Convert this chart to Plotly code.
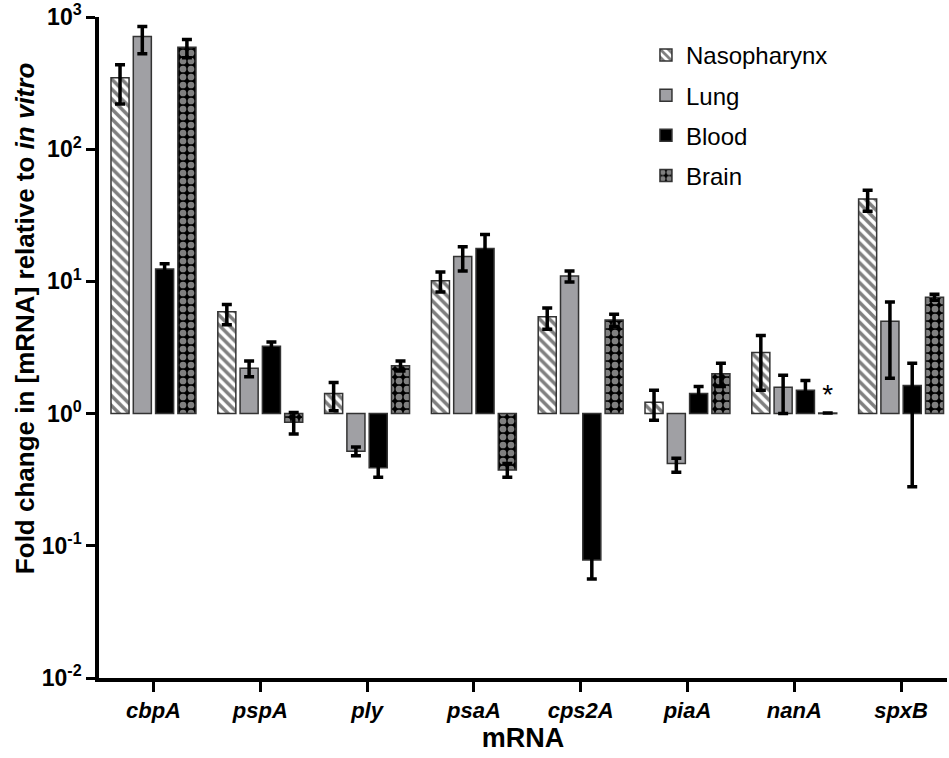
import plotly.graph_objects as go

genes = ["cbpA", "pspA", "ply", "psaA", "cps2A", "piaA", "nanA", "spxB"]

naso = [347, 5.9, 1.42, 10.1, 5.4, 1.22, 2.9, 42]
naso_up = [88, 0.8, 0.3, 1.7, 0.9, 0.28, 1.0, 7]
naso_dn = [127, 1.2, 0.37, 1.8, 1.05, 0.33, 1.4, 8]

lung = [711, 2.2, 0.52, 15.4, 11.0, 0.42, 1.58, 5.0]
lung_up = [136, 0.3, 0.04, 2.9, 1.0, 0.04, 0.37, 2.0]
lung_dn = [183, 0.3, 0.04, 3.4, 1.1, 0.06, 0.58, 3.15]

blood = [12.4, 3.23, 0.39, 17.7, 0.078, 1.42, 1.5, 1.63]
blood_up = [1.2, 0.25, 0.06, 4.9, 0.022, 0.18, 0.28, 0.77]
blood_dn = [1.2, 0.25, 0.06, 4.9, 0.022, 0.18, 0.28, 1.35]

brain = [590, 0.86, 2.3, 0.375, 5.1, 2.0, 1.01, 7.6]
brain_up = [85, 0.16, 0.2, 0.045, 0.55, 0.4, 0, 0.4]
brain_dn = [98, 0.16, 0.2, 0.045, 0.55, 0.4, 0, 0.4]
brain_flags = ["", "", "", "", "", "", "*", ""]

ytick_vals = [0.01, 0.1, 1, 10, 100, 1000]
ytick_text = ["10<sup>-2</sup>", "10<sup>-1</sup>", "10<sup>0</sup>",
              "10<sup>1</sup>", "10<sup>2</sup>", "10<sup>3</sup>"]

y_title = "<b>Fold change in [mRNA] relative to <i>in vitro</i></b>"
x_title = "<b>mRNA</b>"

BASE = 1.0
FONT = "Liberation Sans"

series = [
    ("Nasopharynx", naso, naso_up, naso_dn,
     dict(color="white", pattern=dict(shape="\\", fgcolor="black", bgcolor="white", size=7, solidity=0.5))),
    ("Lung", lung, lung_up, lung_dn, dict(color="#a0a0a4")),
    ("Blood", blood, blood_up, blood_dn, dict(color="black")),
    ("Brain", brain, brain_up, brain_dn,
     dict(color="white", pattern=dict(shape=".", fgcolor="white", bgcolor="black", size=8, solidity=0.55))),
]

fig = go.Figure()
for name, vals, up, dn, mk in series:
    mk = dict(mk)
    mk["line"] = dict(color="#333333", width=1.5)
    kw = {}
    if name == "Brain":
        kw = dict(text=brain_flags, textposition="outside",
                  textfont=dict(size=28, color="black", family=FONT),
                  constraintext="none", cliponaxis=False)
    fig.add_trace(go.Bar(
        name=name, x=genes, y=[v - BASE for v in vals], base=BASE,
        marker=mk, legendgroup=name,
        error_y=dict(type="data", symmetric=False, array=up, arrayminus=dn,
                     color="black", thickness=3.5, width=5),
        **kw))

fig.update_layout(
    width=949, height=758,
    margin=dict(l=99, r=2, t=17, b=80),
    paper_bgcolor="white", plot_bgcolor="white",
    barmode="group", bargap=0.165, bargroupgap=0.19,
    font=dict(family=FONT, color="black"),
    showlegend=True,
    legend=dict(x=0.645, y=0.976, xanchor="left", yanchor="top",
                font=dict(size=24, family=FONT), traceorder="grouped",
                tracegroupgap=6, bgcolor="rgba(0,0,0,0)"),
    annotations=[dict(text=y_title, textangle=-90, xref="paper", yref="paper",
                      x=-0.088, y=0.545, xanchor="center", yanchor="middle",
                      showarrow=False, font=dict(size=26, family=FONT))],
)
fig.update_xaxes(
    range=[-0.51, 7.43], showline=True, linecolor="black", linewidth=3.5,
    ticks="outside", ticklen=10, tickwidth=3, tickcolor="black",
    tickvals=genes, ticktext=["<b><i>%s</i></b>" % g for g in genes],
    tickfont=dict(size=22, family=FONT),
    title=dict(text=x_title, font=dict(size=27, family=FONT), standoff=6),
    showgrid=False, zeroline=False,
)
fig.update_yaxes(
    type="log", range=[-2, 3], showline=True, linecolor="black", linewidth=3.5,
    ticks="outside", ticklen=9, tickwidth=3, tickcolor="black",
    tickvals=ytick_vals, ticktext=["<b>%s</b>" % t for t in ytick_text],
    tickfont=dict(size=23, family=FONT), automargin=False,
    showgrid=False, zeroline=False,
)

fig.write_html("out.html")
